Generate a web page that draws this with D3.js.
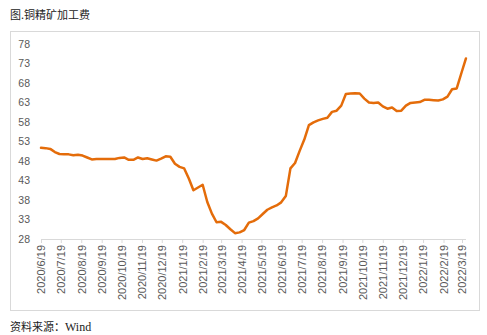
<!DOCTYPE html>
<html><head><meta charset="utf-8">
<script src="https://cdn.jsdelivr.net/npm/d3@7"></script>
<style>body{margin:0;background:#fff}svg{display:block}</style>
</head><body>
<script>
const dates = ["2020-06-19","2020-06-26","2020-07-03","2020-07-10","2020-07-17","2020-07-24","2020-07-31","2020-08-07","2020-08-14","2020-08-21","2020-08-28","2020-09-04","2020-09-11","2020-09-18","2020-09-25","2020-10-02","2020-10-09","2020-10-16","2020-10-23","2020-10-30","2020-11-06","2020-11-13","2020-11-20","2020-11-27","2020-12-04","2020-12-11","2020-12-18","2020-12-25",
"2021-01-01","2021-01-08","2021-01-15","2021-01-22","2021-01-29","2021-02-05","2021-02-12","2021-02-19","2021-02-26","2021-03-05","2021-03-12","2021-03-19","2021-03-26","2021-04-02","2021-04-09","2021-04-16","2021-04-23","2021-04-30","2021-05-07","2021-05-14","2021-05-21","2021-05-28","2021-06-04","2021-06-11","2021-06-18","2021-06-25","2021-07-02","2021-07-09","2021-07-16","2021-07-23","2021-07-30","2021-08-06","2021-08-13","2021-08-20","2021-08-27","2021-09-03","2021-09-10","2021-09-17","2021-09-24","2021-10-01","2021-10-08","2021-10-15","2021-10-22","2021-10-29","2021-11-05","2021-11-12","2021-11-19","2021-11-26","2021-12-03","2021-12-10","2021-12-17","2021-12-24","2021-12-31",
"2022-01-07","2022-01-14","2022-01-21","2022-01-28","2022-02-04","2022-02-11","2022-02-18","2022-02-25","2022-03-04","2022-03-11","2022-03-18","2022-03-25"];
const values = [51.4,51.3,51.1,50.3,49.8,49.7,49.7,49.5,49.6,49.4,
48.9,48.4,48.5,48.5,48.5,48.5,48.5,48.8,48.9,48.3,
48.3,48.9,48.5,48.7,48.4,48.1,48.6,49.2,49.1,47.3,
46.5,46.1,43.5,40.5,41.2,41.9,37.5,34.5,32.3,32.4,
31.6,30.5,29.5,29.7,30.3,32.2,32.6,33.3,34.4,35.5,
36.1,36.6,37.4,39.0,46.1,47.5,50.6,53.5,57.2,57.9,
58.4,58.8,59.1,60.6,60.9,62.2,65.2,65.3,65.4,65.3,
64.0,63.0,62.9,63.0,62.0,61.4,61.7,60.8,60.9,62.2,
62.9,63.0,63.1,63.7,63.7,63.6,63.5,63.8,64.5,66.4,
66.6,70.5,74.3];
const xTickLabels = ["2020/6/19","2020/7/19","2020/8/19","2020/9/19","2020/10/19","2020/11/19","2020/12/19","2021/1/19","2021/2/19","2021/3/19","2021/4/19","2021/5/19","2021/6/19","2021/7/19","2021/8/19","2021/9/19","2021/10/19","2021/11/19","2021/12/19","2022/1/19","2022/2/19","2022/3/19"];
const yTicks = [28,33,38,43,48,53,58,63,68,73,78];
const title = "图.铜精矿加工费";
const sourceLabel = "资料来源：";
const sourceName = "Wind";

const W = 487, H = 335;
const svg = d3.select("body").append("svg").attr("width", W).attr("height", H);
const parseD = d3.timeParse("%Y-%m-%d");
const parseT = d3.timeParse("%Y/%m/%d");
const data = dates.map((d, i) => ({date: parseD(d), v: values[i]}));
const tickDates = xTickLabels.map(parseT);

const x = d3.scaleTime().domain([tickDates[0], tickDates[tickDates.length - 1]]).range([41, 462]);
const y = d3.scaleLinear().domain([28, 78]).range([239, 44]);

// frame
svg.append("rect").attr("x", 10.5).attr("y", 31.5).attr("width", 469).attr("height", 279)
  .attr("fill", "none").attr("stroke", "#d9d9d9").attr("stroke-width", 1);

svg.append("text").attr("x", 10).attr("y", 19).text(title)
  .attr("font-family", "'Noto Sans CJK SC'").attr("font-size", 11).attr("fill", "#222");
const src = svg.append("text").attr("x", 10).attr("y", 331)
  .attr("font-family", "'Noto Sans CJK SC'").attr("font-size", 11).attr("fill", "#222");
src.append("tspan").text(sourceLabel);
src.append("tspan").text(sourceName).attr("font-family", "'Liberation Serif', serif").attr("font-size", 12);

// y axis labels
const yAxis = d3.axisLeft(y).tickValues(yTicks).tickSize(0).tickPadding(0);
const gy = svg.append("g").attr("transform", "translate(30,0)").call(yAxis);
gy.select(".domain").remove();
gy.selectAll("text").attr("font-family", "'Liberation Sans', Arial, sans-serif")
  .attr("font-size", 10.5).attr("fill", "#595959");

// x axis
const xAxis = d3.axisBottom(x).tickValues(tickDates).tickSize(4).tickFormat((d, i) => xTickLabels[i]);
const gx = svg.append("g").attr("transform", "translate(0,239)").call(xAxis);
gx.select(".domain").attr("d", "M" + x(tickDates[0]) + ",0.5H" + x(data[data.length - 1].date))
  .attr("stroke", "#d9d9d9");
gx.selectAll(".tick line").attr("stroke", "#d9d9d9");
gx.selectAll(".tick text")
  .attr("font-family", "'Liberation Sans', Arial, sans-serif").attr("font-size", 11).attr("fill", "#595959")
  .attr("text-anchor", "end").attr("transform", "rotate(-90)")
  .attr("x", -6).attr("y", 0).attr("dy", "0.35em");

// line
const line = d3.line().x(d => x(d.date)).y(d => y(d.v));
svg.append("path").datum(data).attr("d", line)
  .attr("fill", "none").attr("stroke", "#E46C0A").attr("stroke-width", 2.5)
  .attr("stroke-linejoin", "round").attr("stroke-linecap", "round");
</script>
</body></html>
